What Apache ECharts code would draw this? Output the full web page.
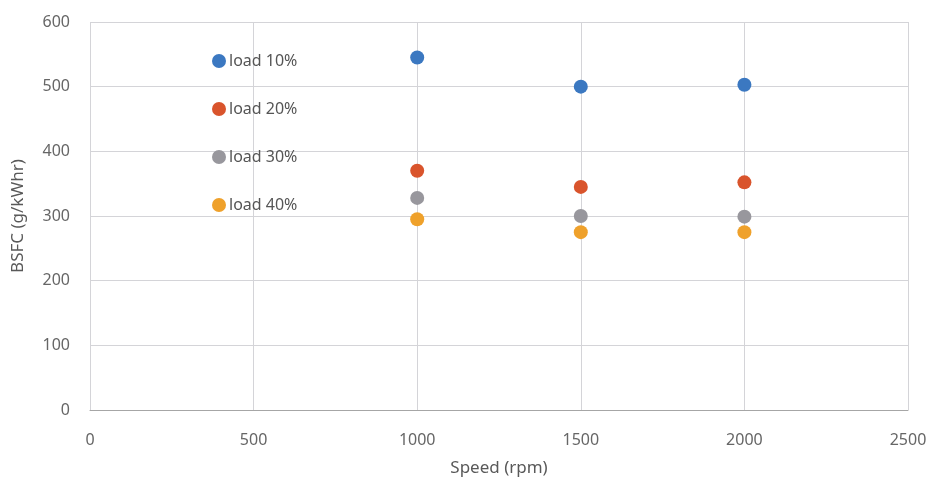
<!DOCTYPE html>
<html>
<head>
<meta charset="utf-8">
<script src="https://cdn.jsdelivr.net/npm/echarts@6/dist/echarts.min.js"></script>
<style>
  html, body { margin: 0; padding: 0; background: #fff; }
  #chart { width: 930px; height: 480px; }
</style>
</head>
<body>
<div id="chart"></div>
<script>
  // 数据
  var seriesNames = ['load 10%', 'load 20%', 'load 30%', 'load 40%'];
  var speeds = [1000, 1500, 2000];
  var load10 = [545, 500, 503];
  var load20 = [370, 345, 352];
  var load30 = [328, 300, 299];
  var load40 = [295, 275, 275];
  var colors = ['#3b78c1', '#d9542c', '#98979d', '#efa12b'];

  var allVals = [load10, load20, load30, load40];
  var series = [];
  for (var i = 0; i < seriesNames.length; i++) {
    var pts = [];
    for (var j = 0; j < speeds.length; j++) {
      pts.push([speeds[j], allVals[i][j]]);
    }
    series.push({
      name: seriesNames[i],
      type: 'scatter',
      symbolSize: 14,
      itemStyle: { opacity: 1 },
      data: pts
    });
  }

  var chart = echarts.init(document.getElementById('chart'));
  var font = 'Noto Sans';
  chart.setOption({
    color: colors,
    animation: false,
    textStyle: { fontFamily: font },
    grid: { left: 90, right: 22, top: 22, bottom: 70, outerBoundsMode: 'none' },
    legend: {
      orient: 'vertical',
      left: 207,
      top: 48,
      icon: 'circle',
      itemWidth: 14,
      itemHeight: 14,
      itemGap: 32,
      itemStyle: { opacity: 1 },
      textStyle: { color: '#555', fontSize: 16, fontFamily: font, padding: [0, 0, 0, -2] },
      data: seriesNames
    },
    xAxis: {
      type: 'value',
      min: 0,
      max: 2500,
      interval: 500,
      name: 'Speed (rpm)',
      nameLocation: 'middle',
      nameGap: 50,
      nameTextStyle: { color: '#595959', fontSize: 17 },
      axisLine: { show: true, lineStyle: { color: '#a6a6a6' } },
      axisTick: { show: false },
      axisLabel: { color: '#666', fontSize: 16, margin: 22, formatter: function (v) { return String(v); } },
      splitLine: { show: true, lineStyle: { color: '#d4d4d8' } }
    },
    yAxis: {
      type: 'value',
      min: 0,
      max: 600,
      interval: 100,
      name: 'BSFC (g/kWhr)',
      nameLocation: 'middle',
      nameGap: 63,
      nameTextStyle: { color: '#595959', fontSize: 17 },
      axisLine: { show: false },
      axisTick: { show: false },
      axisLabel: { color: '#666', fontSize: 16, margin: 20 },
      splitLine: { show: true, lineStyle: { color: '#d4d4d8' } }
    },
    series: series
  });
</script>
</body>
</html>
